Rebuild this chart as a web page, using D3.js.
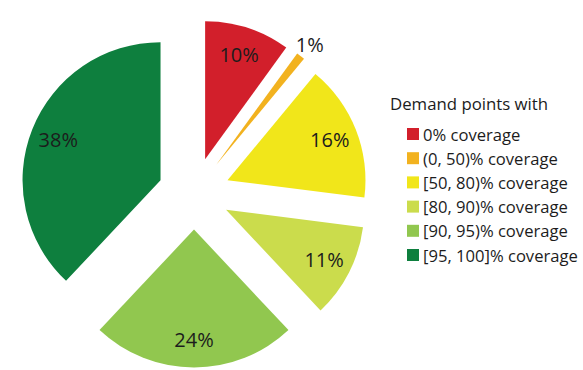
<!DOCTYPE html>
<html>
<head>
<meta charset="utf-8">
<script src="https://cdn.jsdelivr.net/npm/d3@7/dist/d3.min.js"></script>
<style>
  html, body { margin: 0; padding: 0; background: #ffffff; }
  svg { display: block; }
  text { font-family: "Open Sans", Lato, sans-serif; }
</style>
</head>
<body>
<svg id="chart" width="583" height="370"></svg>
<script>
// Share of demand points by coverage band (percent)
const categories = ["0% coverage", "(0, 50)% coverage", "[50, 80)% coverage",
                    "[80, 90)% coverage", "[90, 95)% coverage", "[95, 100]% coverage"];
const values = [10, 1, 16, 11, 24, 38];
const colors = ["#d21f2b", "#f2b21f", "#f1e61a", "#cbdc4c", "#91c74f", "#0e7f3e"];
const legendTitle = "Demand points with";

const svg = d3.select("#chart");

const cx = 194, cy = 193.5;      // pie centre
const R = 138;                   // slice radius
const explode = 36;              // distance each slice is pulled out
const labelR = 110;              // radius of labels placed inside slices
const outsideLabelR = 153;       // radius of labels for thin slices

const pie = d3.pie().sort(null).value(d => d)
  .startAngle(0).endAngle(2 * Math.PI);
const arcs = pie(values);
const arc = d3.arc().innerRadius(0).outerRadius(R);

const g = svg.append("g").attr("transform", `translate(${cx},${cy})`);

function polar(angle, r) {
  return [Math.sin(angle) * r, -Math.cos(angle) * r];
}

const slices = g.selectAll("g.slice").data(arcs).enter().append("g")
  .attr("class", "slice")
  .attr("transform", d => {
    const mid = (d.startAngle + d.endAngle) / 2;
    const [dx, dy] = polar(mid, explode);
    return `translate(${dx},${dy})`;
  });

slices.append("path")
  .attr("d", arc)
  .attr("fill", (d, i) => colors[i]);

slices.append("text")
  .attr("transform", d => {
    const mid = (d.startAngle + d.endAngle) / 2;
    const r = d.value < 5 ? outsideLabelR : labelR;
    const [x, y] = polar(mid, r);
    return `translate(${x},${y})`;
  })
  .attr("text-anchor", "middle")
  .attr("dominant-baseline", "central")
  .attr("font-size", 20)
  .attr("fill", "#1c1c1c")
  .text(d => d.value + "%");

// Legend
const legend = svg.append("g").attr("transform", "translate(390,0)");
legend.append("text")
  .attr("x", 0).attr("y", 103)
  .attr("dominant-baseline", "central")
  .attr("font-size", 16.8)
  .attr("fill", "#1c1c1c")
  .text(legendTitle);

const rowY = d3.scalePoint().domain(d3.range(categories.length)).range([134, 255]);
const items = legend.selectAll("g.item").data(categories).enter().append("g")
  .attr("class", "item")
  .attr("transform", (d, i) => `translate(17,${rowY(i)})`);
items.append("rect")
  .attr("x", 0).attr("y", -6).attr("width", 12).attr("height", 12)
  .attr("fill", (d, i) => colors[i]);
items.append("text")
  .attr("x", 16).attr("y", 0)
  .attr("dominant-baseline", "central")
  .attr("font-size", 16.6)
  .attr("fill", "#1c1c1c")
  .text(d => d);
</script>
</body>
</html>
